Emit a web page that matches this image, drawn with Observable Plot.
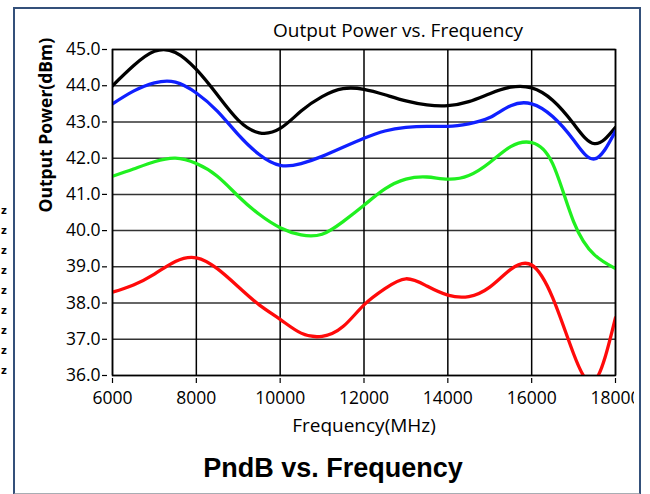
<!DOCTYPE html>
<html>
<head>
<meta charset="utf-8">
<script src="https://cdn.jsdelivr.net/npm/d3@7"></script>
<script src="https://cdn.jsdelivr.net/npm/@observablehq/plot@0.6"></script>
<style>
  html, body { margin: 0; padding: 0; background: #fff; }
  #wrap { position: relative; width: 650px; height: 494px; overflow: hidden; background: #fff; }
  #border { position: absolute; left: 13px; top: 7px; width: 624px; height: 484px;
            border-left: 2px solid #34507a; border-top: 2px solid #34507a; border-right: 2px solid #34507a;
            border-bottom: 2px solid #a8adb3; }
  #chart { position: absolute; left: 0; top: 0; }
  #bottomTitle { position: absolute; left: 0; width: 666px; top: 453px; text-align: center;
                 font: bold 27px "Liberation Sans", Arial, sans-serif; color: #000; }
  #zcol { position: absolute; left: 1px; top: 201px; font: bold 10px "DejaVu Sans", sans-serif; line-height: 20px; color: #000; }
</style>
</head>
<body>
<div id="wrap">
  <div id="border"></div>
  <div id="zcol"></div>
  <div id="chart"></div>
  <div id="bottomTitle">PndB vs. Frequency</div>
</div>
<script>
// ---- data ----
const freq   = [6000, 6500, 7000, 7500, 8000, 8500, 9000, 9500, 10000, 10500, 11000, 11500, 12000,
                12500, 13000, 13500, 14000, 14500, 15000, 15500, 16000, 16500, 17000, 17500, 18000];
const black  = [44.0, 44.55, 44.95, 44.92, 44.45, 43.75, 43.05, 42.7, 42.82, 43.3, 43.7, 43.92, 43.9,
                43.75, 43.58, 43.47, 43.45, 43.56, 43.78, 43.96, 43.94, 43.6, 42.95, 42.4, 42.85];
const blue   = [43.5, 43.85, 44.08, 44.1, 43.8, 43.3, 42.65, 42.1, 41.8, 41.85, 42.05, 42.3, 42.55,
                42.75, 42.85, 42.88, 42.88, 42.95, 43.12, 43.45, 43.5, 43.15, 42.5, 41.98, 42.75];
const green  = [41.5, 41.7, 41.9, 42.0, 41.85, 41.5, 40.95, 40.45, 40.08, 39.88, 39.9, 40.25, 40.7,
                41.15, 41.42, 41.48, 41.42, 41.52, 41.88, 42.32, 42.43, 41.85, 40.25, 39.33, 38.95];
const red    = [38.3, 38.5, 38.8, 39.15, 39.25, 38.95, 38.45, 37.95, 37.55, 37.17, 37.08, 37.35, 37.95,
                38.4, 38.67, 38.47, 38.22, 38.18, 38.44, 38.93, 39.05, 38.15, 36.6, 35.85, 37.6];
const seriesNames  = ["black", "blue", "green", "red"];
const seriesColors = ["#000000", "#1020ff", "#20f020", "#ff0a0a"];
const xTicks = [6000, 8000, 10000, 12000, 14000, 16000, 18000];
const yTicks = [36, 37, 38, 39, 40, 41, 42, 43, 44, 45];
const titleText = "Output Power vs. Frequency";
const xLabel = "Frequency(MHz)";
const yLabel = "Output Power(dBm)";
const clippedLegend = ["z", "z", "z", "z", "z", "z", "z", "z", "z"];

// ---- build table ----
const allSeries = [black, blue, green, red];
const rows = [];
allSeries.forEach((vals, i) => vals.forEach((v, j) => rows.push({series: seriesNames[i], freq: freq[j], value: v})));

document.getElementById("zcol").innerHTML = clippedLegend.join("<br>");

const font = "'Open Sans', 'Noto Sans', sans-serif";
const chart = Plot.plot({
  width: 634,
  height: 440,
  marginLeft: 112,
  marginRight: 19,
  marginTop: 49,
  marginBottom: 65,
  style: {fontFamily: font, fontSize: "17px", color: "#000", background: "transparent", overflow: "hidden"},
  x: {domain: [6000, 18000]},
  y: {domain: [36, 45]},
  marks: [
    Plot.gridY(yTicks, {stroke: "#333", strokeOpacity: 1, strokeWidth: 1.5}),
    Plot.gridX(xTicks, {stroke: "#000", strokeOpacity: 1, strokeWidth: 1.5}),
    ...seriesNames.map((name, i) =>
      Plot.line(rows.filter(r => r.series === name), {
        x: "freq", y: "value", stroke: seriesColors[i], strokeWidth: 3.3, curve: "natural", clip: true
      })
    ),
    Plot.frame({stroke: "#000", strokeWidth: 1.5}),
    Plot.axisY(yTicks, {tickFormat: d => d.toFixed(1), tickSize: 5, dx: -5, tickPadding: 2, label: null, fontSize: 17.5, strokeWidth: 1.2}),
    Plot.axisX(xTicks, {tickFormat: d => String(d), tickSize: 5, dy: 3, tickPadding: 8, label: null, fontSize: 17.5, strokeWidth: 1.2}),
    Plot.text([titleText], {frameAnchor: "top", lineAnchor: "middle", dx: 34, dy: -19, fontSize: 19, text: d => d}),
    Plot.text([xLabel], {frameAnchor: "bottom", lineAnchor: "middle", dy: 50, fontSize: 19, text: d => d}),
    Plot.text([yLabel], {frameAnchor: "left", lineAnchor: "middle", dx: -66, rotate: -90, fontSize: 17.5, fontWeight: "bold", text: d => d})
  ]
});
document.getElementById("chart").appendChild(chart);
</script>
</body>
</html>
